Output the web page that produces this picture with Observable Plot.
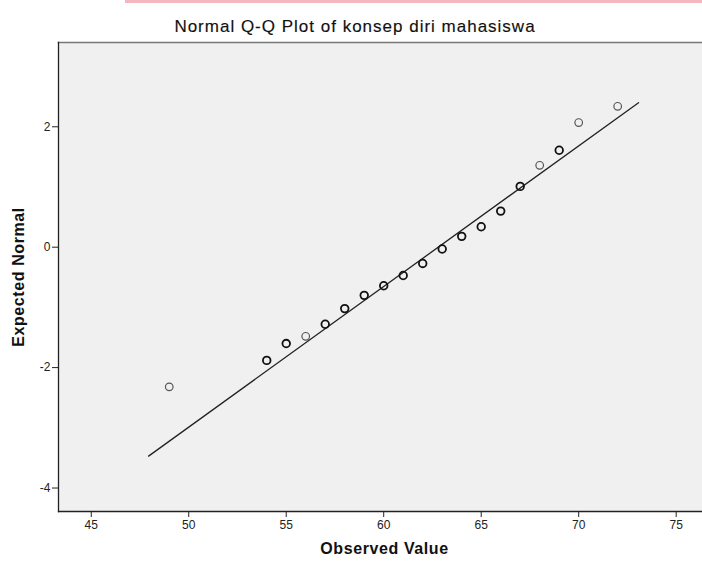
<!DOCTYPE html>
<html>
<head>
<meta charset="utf-8">
<script src="https://cdn.jsdelivr.net/npm/d3@7"></script>
<script src="https://cdn.jsdelivr.net/npm/@observablehq/plot@0.6"></script>
<style>
  html, body { margin: 0; padding: 0; background: #fff; }
  #wrap { position: relative; width: 702px; height: 566px; overflow: hidden; font-family: Arial, "Liberation Sans", sans-serif; }
  #pink { position: absolute; left: 125px; top: 0; width: 577px; height: 3px; background: #f5b6c0; }
  #title { position: absolute; left: 0; width: 710px; top: 17px; text-align: center; font-size: 17px; letter-spacing: 1px; color: #111; -webkit-text-stroke: 0.15px #111; white-space: nowrap; }
  #chart { position: absolute; left: 0; top: 0; }
</style>
</head>
<body>
<div id="wrap">
  <div id="pink"></div>
  <div id="chart"></div>
  <div id="title">Normal Q-Q Plot of konsep diri mahasiswa</div>
</div>
<script>
const observed = [49, 54, 55, 56, 57, 58, 59, 60, 61, 62, 63, 64, 65, 66, 67, 68, 69, 70, 72];
const expected = [-2.32, -1.88, -1.60, -1.48, -1.28, -1.02, -0.80, -0.64, -0.47, -0.27, -0.03, 0.18, 0.34, 0.60, 1.01, 1.36, 1.61, 2.07, 2.34];
// overlapping (tied) cases draw darker circles
const tied = [false, true, true, false, true, true, true, true, true, true, true, true, true, true, true, false, true, false, false];
// reference line endpoints
const lineX = [47.94, 73.07];
const lineY = [-3.47, 2.40];
const xTicks = [45, 50, 55, 60, 65, 70, 75];
const yTicks = [-4, -2, 0, 2];

const pts = observed.map((x, i) => ({x, y: expected[i], tied: tied[i]}));
const ref = lineX.map((x, i) => ({x, y: lineY[i]}));

const chart = Plot.plot({
  width: 702,
  height: 566,
  marginTop: 42,
  marginLeft: 58,
  marginRight: 0,
  marginBottom: 55,
  style: {fontFamily: "Arial, 'Liberation Sans', sans-serif", fontSize: "12px", color: "#222", background: "transparent"},
  x: {domain: [43.32, 76.35], label: null},
  y: {domain: [-4.39, 3.40], label: null},
  marks: [
    Plot.frame({fill: "#f0f0f0", stroke: null}),
    Plot.line(ref, {x: "x", y: "y", stroke: "#222", strokeWidth: 1.3}),
    Plot.dot(pts.filter(d => !d.tied), {x: "x", y: "y", r: 3.8, fill: "none", stroke: "#555", strokeWidth: 1.2}),
    Plot.dot(pts.filter(d => d.tied), {x: "x", y: "y", r: 3.8, fill: "none", stroke: "#111", strokeWidth: 1.8}),
    Plot.frame({anchor: "top", stroke: "#777", strokeWidth: 1.5}),
    Plot.frame({anchor: "left", stroke: "#222", strokeWidth: 1.3}),
    Plot.frame({anchor: "bottom", stroke: "#222", strokeWidth: 1.3}),
    Plot.axisX(xTicks, {tickSize: 6, tickPadding: 3, stroke: "#222", fill: "#222", fontSize: 12, tickFormat: d => String(d), label: null}),
    Plot.axisY(yTicks, {tickSize: 6, tickPadding: 2, stroke: "#222", fill: "#222", fontSize: 12, tickFormat: d => String(d), label: null}),
    Plot.text(["Observed Value"], {frameAnchor: "bottom", dy: 42, dx: 4, fontSize: 16, fontWeight: "bold", fill: "#111"}),
    Plot.text(["Expected Normal"], {frameAnchor: "left", textAnchor: "middle", dx: -40, rotate: -90, fontSize: 16, fontWeight: "bold", fill: "#111"})
  ]
});
document.getElementById("chart").appendChild(chart);
// slight letter spacing on the axis titles, as in the reference
chart.querySelectorAll("text").forEach(t => {
  if (t.textContent === "Observed Value" || t.textContent === "Expected Normal") t.setAttribute("letter-spacing", "0.6");
});
</script>
</body>
</html>
